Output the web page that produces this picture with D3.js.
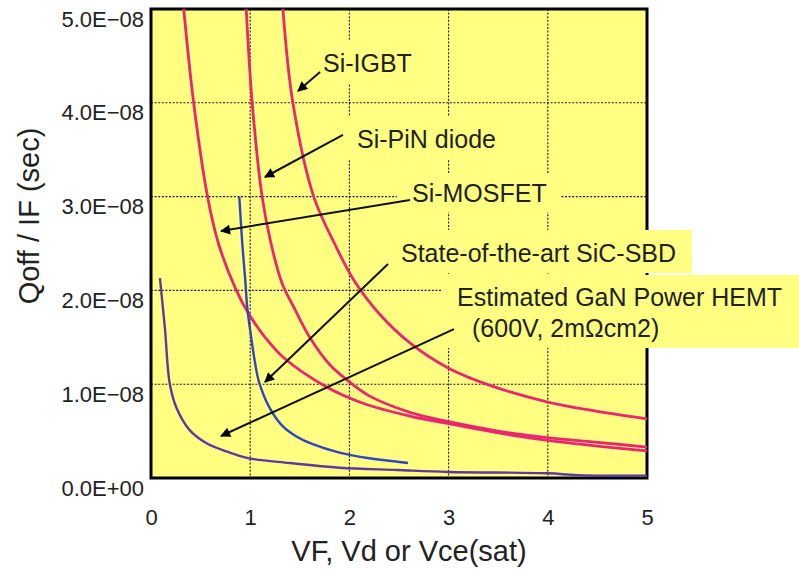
<!DOCTYPE html>
<html>
<head>
<meta charset="utf-8">
<script src="https://cdn.jsdelivr.net/npm/d3@7"></script>
<style>
  html, body { margin: 0; padding: 0; background: #ffffff; }
  svg { display: block; }
  text { font-family: Arial, "Liberation Sans", sans-serif; fill: #222; }
</style>
</head>
<body>
<svg id="chart" width="799" height="570"></svg>
<script>
// ---------- DATA ----------
const xTicks = [0, 1, 2, 3, 4, 5];
const xTickLabels = ["0", "1", "2", "3", "4", "5"];
const yTicks = [0, 1e-8, 2e-8, 3e-8, 4e-8, 5e-8];
const yTickLabels = ["0.0E+00", "1.0E\u221208", "2.0E\u221208", "3.0E\u221208", "4.0E\u221208", "5.0E\u221208"];

// [VF, Qoff/IF in units of 1e-8 s]
const siIGBT = [[1.33,5.0],[1.43,4.0],[1.64,3.0],[1.85,2.5],[2.05,2.1],[2.31,1.74],[2.61,1.44],[3.0,1.17],[3.41,0.99],[4.0,0.81],[4.5,0.71],[5.0,0.63]];
const siPiN = [[0.96,5.0],[1.02,4.0],[1.12,3.0],[1.21,2.5],[1.32,2.08],[1.45,1.8],[1.60,1.50],[1.80,1.21],[1.97,1.05],[2.21,0.87],[2.61,0.70],[3.0,0.60],[3.5,0.50],[4.0,0.43],[4.5,0.38],[5.0,0.33]];
const siMOSFET = [[0.33,5.0],[0.43,4.0],[0.57,3.0],[0.68,2.5],[0.86,2.0],[0.98,1.76],[1.15,1.50],[1.33,1.29],[1.77,0.97],[2.13,0.80],[2.61,0.66],[3.0,0.58],[3.5,0.48],[4.0,0.40],[4.5,0.34],[5.0,0.29]];
const sicSBD = [[0.89,3.0],[0.92,2.5],[0.95,2.11],[0.97,1.82],[1.01,1.50],[1.05,1.22],[1.09,1.02],[1.20,0.74],[1.33,0.55],[1.47,0.44],[1.63,0.36],[1.90,0.27],[2.2,0.21],[2.59,0.16]];
const ganHEMT = [[0.09,2.13],[0.14,1.60],[0.19,1.0],[0.26,0.74],[0.39,0.51],[0.56,0.37],[0.77,0.28],[0.99,0.21],[1.40,0.16],[1.90,0.11],[2.48,0.085],[3.0,0.064],[4.0,0.05],[4.3,0.03],[5.0,0.025]];

const seriesNames = ["Si-IGBT", "Si-PiN diode", "Si-MOSFET", "State-of-the-art SiC-SBD", "Estimated GaN Power HEMT"];
const seriesData = [siIGBT, siPiN, siMOSFET, sicSBD, ganHEMT];
const seriesColors = ["#ea2670", "#ea2670", "#ea2670", "#3442c4", "#5b3aa6"];

// annotation labels: [lines, x, y(1e-8)] and arrows [x1,y1,x2,y2] in data units
const labelLines = [["Si-IGBT"], ["Si-PiN diode"], ["Si-MOSFET"], ["State-of-the-art SiC-SBD"], ["Estimated GaN Power HEMT", "(600V, 2m\u03A9cm2)"]];
const labelPos = [[1.734, 4.328], [2.077, 3.518], [2.631, 2.942], [2.520, 2.303], [3.085, 1.834]];
const labelIndent = [[0], [0], [0], [0], [0, 0.151]];
const arrows = [[1.704,4.328,1.482,4.126],[1.935,3.657,1.149,3.209],[2.611,2.964,0.706,2.633],[2.389,2.281,1.149,1.023],[3.054,1.588,0.706,0.448]];

// ---------- LAYOUT ----------
const svg = d3.select("#chart");
const x = d3.scaleLinear().domain([0, 5]).range([151, 647]);
const y = d3.scaleLinear().domain([0, 5e-8]).range([478, 9]);
const yU = v => y(v * 1e-8);
const plotBg = "#ffff82";

// background
svg.append("rect")
  .attr("x", x(0)).attr("y", y(5e-8))
  .attr("width", x(5) - x(0)).attr("height", y(0) - y(5e-8))
  .attr("fill", plotBg);

// gridlines
const grid = svg.append("g").attr("stroke", "#1a1a1a").attr("stroke-width", 1.1).attr("stroke-dasharray", "2,1.6");
grid.selectAll(".gx").data(xTicks.slice(1, -1)).join("line")
  .attr("x1", d => x(d)).attr("x2", d => x(d))
  .attr("y1", y(5e-8)).attr("y2", y(0));
grid.selectAll(".gy").data(yTicks.slice(1, -1)).join("line")
  .attr("x1", x(0)).attr("x2", x(5))
  .attr("y1", d => y(d)).attr("y2", d => y(d));

// border
svg.append("rect")
  .attr("x", x(0)).attr("y", y(5e-8))
  .attr("width", x(5) - x(0)).attr("height", y(0) - y(5e-8))
  .attr("fill", "none").attr("stroke", "#000").attr("stroke-width", 3);

// curves
const line = d3.line().x(d => x(d[0])).y(d => yU(d[1])).curve(d3.curveCatmullRom.alpha(0.5));
svg.append("g").selectAll("path").data(seriesData).join("path")
  .attr("d", d => line(d))
  .attr("fill", "none")
  .attr("stroke", (d, i) => seriesColors[i])
  .attr("stroke-width", (d, i) => i < 3 ? 2.8 : 2.4)
  .attr("stroke-linejoin", "round");

// axes
const xAxis = svg.append("g").attr("transform", `translate(0,${y(0)})`)
  .call(d3.axisBottom(x).tickValues(xTicks).tickSize(0).tickFormat((d, i) => xTickLabels[i]));
xAxis.select(".domain").remove();
xAxis.selectAll("text").attr("y", 47).attr("dy", 0).attr("font-size", 22)
  .style("font-family", "Arial, 'Liberation Sans', sans-serif").attr("fill", "#222");

const yAxis = svg.append("g").attr("transform", `translate(${x(0)},0)`)
  .call(d3.axisLeft(y).tickValues(yTicks).tickSize(0).tickPadding(7).tickFormat((d, i) => yTickLabels[i]));
yAxis.select(".domain").remove();
yAxis.selectAll("text").attr("dy", "0.78em").attr("font-size", 22)
  .style("font-family", "Arial, 'Liberation Sans', sans-serif").attr("fill", "#222");

// axis titles
svg.append("text").attr("x", 409).attr("y", 561).attr("text-anchor", "middle")
  .attr("font-size", 29).text("VF, Vd or Vce(sat)");
svg.append("text").attr("transform", "translate(39,216) rotate(-90)").attr("text-anchor", "middle")
  .attr("font-size", 29).text("Qoff / IF (sec)");

// label boxes + texts
const pads = [[7,12,8,6],[10,8,8,6],[15,14,5,5],[8,16,9,6],[15,6,8,6]]; // left,right,top,bottom
const labG = svg.append("g");
labelLines.forEach((lines, i) => {
  const g = labG.append("g");
  const rect = g.append("rect").attr("fill", plotBg);
  const t = g.append("text").attr("font-size", 25);
  lines.forEach((s, j) => {
    t.append("tspan").attr("x", x(labelPos[i][0] + labelIndent[i][j]))
      .attr("y", yU(labelPos[i][1]) + j * 31).text(s);
  });
  const bb = t.node().getBBox();
  const p = pads[i];
  const right = Math.min(bb.x + bb.width + p[1], 799);
  rect.attr("x", bb.x - p[0]).attr("y", bb.y - p[2])
    .attr("width", (i === 4 ? 799 : right) - (bb.x - p[0]))
    .attr("height", bb.height + p[2] + p[3]);
});

// arrows
const defs = svg.append("defs");
defs.append("marker").attr("id", "ah").attr("viewBox", "0 0 10 10")
  .attr("refX", 9).attr("refY", 5).attr("markerWidth", 7).attr("markerHeight", 5)
  .attr("markerUnits", "strokeWidth").attr("orient", "auto")
  .append("path").attr("d", "M0,0 L10,5 L0,10 Z").attr("fill", "#000");
svg.append("g").selectAll("line").data(arrows).join("line")
  .attr("x1", d => x(d[0])).attr("y1", d => yU(d[1]))
  .attr("x2", d => x(d[2])).attr("y2", d => yU(d[3]))
  .attr("stroke", "#111").attr("stroke-width", 2)
  .attr("marker-end", "url(#ah)");
</script>
</body>
</html>
